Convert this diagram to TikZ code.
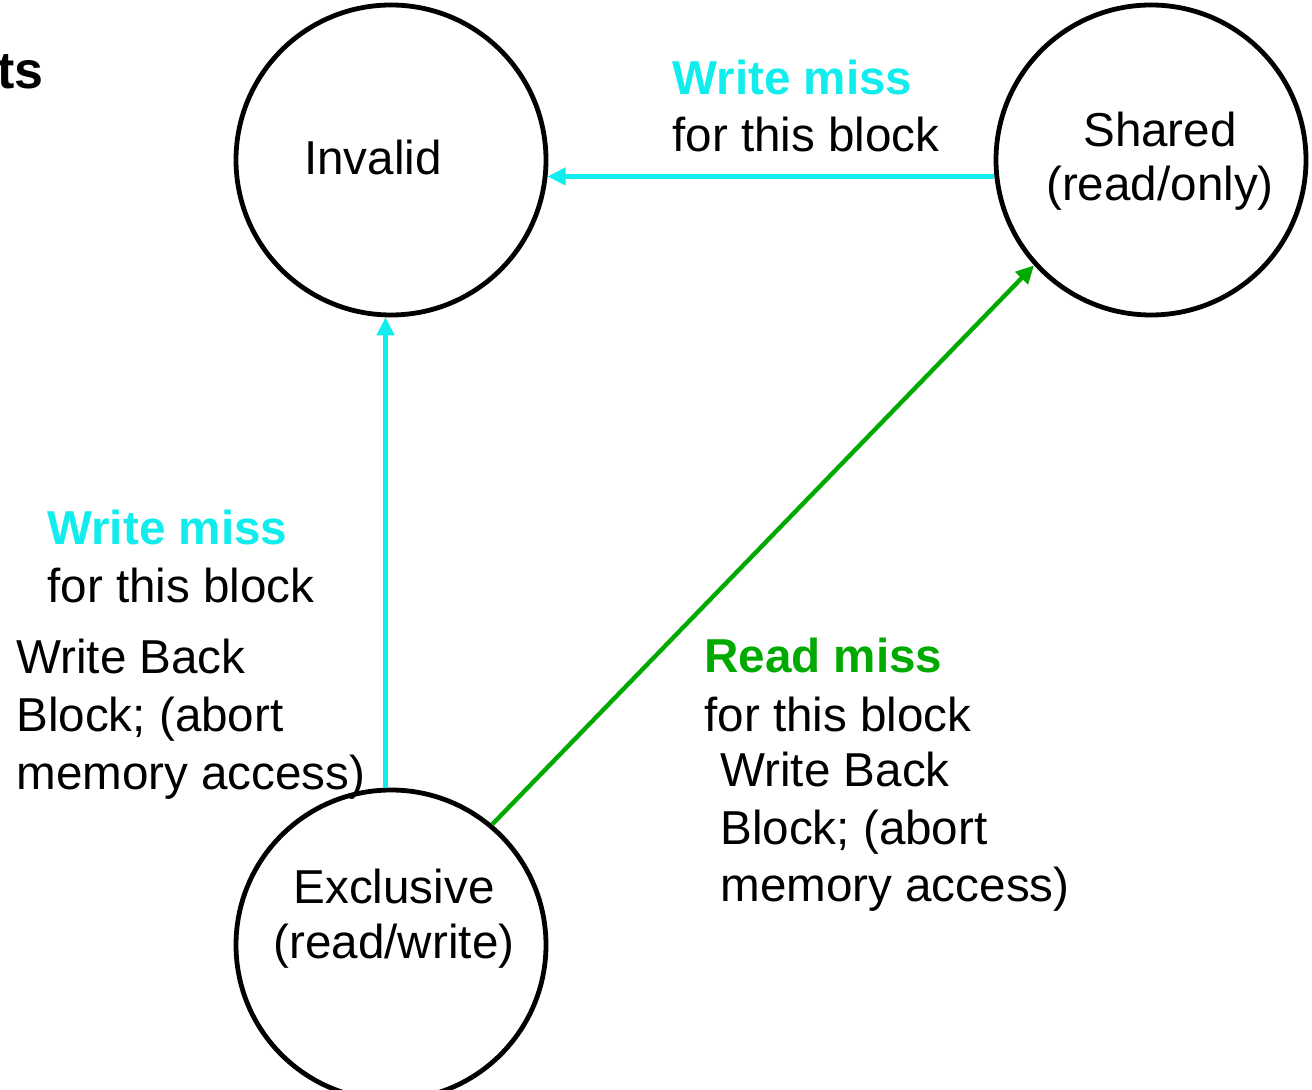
\documentclass[tikz,border=0pt]{standalone}
\usepackage{fontspec}
\setmainfont{Liberation Sans}
\usetikzlibrary{arrows.meta}
\definecolor{cy}{RGB}{17,236,236}
\definecolor{gr}{RGB}{0,170,0}
\tikzset{
  state/.style={circle,draw=black,line width=2.4pt,minimum size=155pt,inner sep=0pt,outer sep=1.2pt},
  txt/.style={anchor=base west,inner sep=0pt,font=\fontsize{23.8}{28.5}\selectfont},
  ctxt/.style={anchor=base,inner sep=0pt,font=\fontsize{23.8}{28.5}\selectfont},
  btxt/.style={txt,font=\fontsize{23.8}{28.5}\selectfont\bfseries},
  arr/.style={line width=2.2pt,-{Triangle[length=9pt,width=8.5pt]}}
}
\begin{document}
\begin{tikzpicture}[x=0.5pt,y=-0.5pt]
\useasboundingbox (0,0) rectangle (1312,1090);
\clip (0,0) rectangle (1312,1090);
% states
\node[state] (inv) at (391,160) {};
\node[state] (sh) at (1151,160) {};
\node[state] (ex) at (391,945) {};
\node[ctxt] (invl) at (373,175) {Invalid};
\node[ctxt] (shl1) at (1160,147) {Shared};
\node[ctxt] (shl2) at (1160,201) {(read/only)};
\node[ctxt] (exl1) at (394,903) {Exclusive};
\node[ctxt] (exl2) at (394,958) {(read/write)};
% title fragment
\node[btxt,font=\fontsize{26}{30}\selectfont\bfseries] (ts) at (-3,89) {ts};
% arrows
\draw[arr,cy] (sh.186.5) -- (inv.-6.5);
\draw[arr,cy] (ex.92) -- (inv.268);
\draw[arr,gr] (ex.50) -- (sh.222.5);
% top label
\node[btxt,text=cy] (t1) at (672,95) {Write miss};
\node[txt] (t2) at (672,152) {for this block};
% left label
\node[btxt,text=cy] (l1) at (47,545) {Write miss};
\node[txt] (l2) at (47,603) {for this block};
\node[txt] (l3) at (16,674) {Write Back};
\node[txt] (l4) at (16,731) {Block; (abort};
\node[txt] (l5) at (16,789) {memory access)};
% right label
\node[btxt,text=gr] (r1) at (704,673) {Read miss};
\node[txt] (r2) at (704,731) {for this block};
\node[txt] (r3) at (720,786) {Write Back};
\node[txt] (r4) at (720,844) {Block; (abort};
\node[txt] (r5) at (720,901) {memory access)};
\end{tikzpicture}
\end{document}
